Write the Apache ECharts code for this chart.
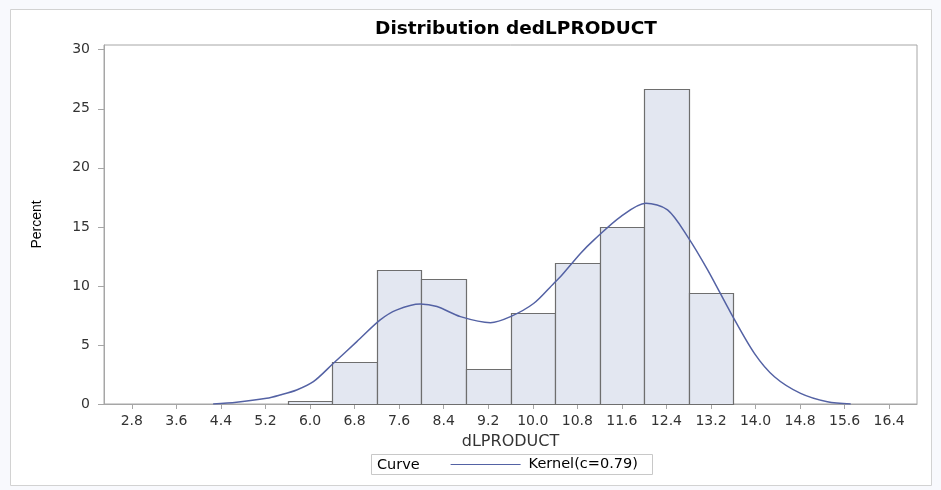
<!DOCTYPE html>
<html>
<head>
<meta charset="utf-8">
<script src="https://cdn.jsdelivr.net/npm/echarts@6/dist/echarts.min.js"></script>
<style>html,body{margin:0;padding:0;background:#f8f9fd;}#c{width:941px;height:490px;}</style>
</head>
<body>
<div id="c"></div>
<script>
// Histogram bins (bin midpoints) and percents
const binMid = [6.0, 6.8, 7.6, 8.4, 9.2, 10.0, 10.8, 11.6, 12.4, 13.2];
const binPct = [0.25, 3.58, 11.33, 10.57, 2.97, 7.68, 11.92, 14.97, 26.67, 9.38];
const binWidth = 0.8;
// Kernel density curve
const curveX = [4.26, 4.68, 5.22, 5.46, 5.76, 6.06, 6.42, 6.84, 7.26, 7.56, 7.98, 8.28, 8.70, 9.24, 9.60, 10.02, 10.38, 10.50, 10.86, 11.10, 11.58, 12.03, 12.42, 12.78, 13.14, 13.56, 13.98, 14.34, 14.81, 15.29, 15.71];
const curveY = [0.0, 0.14, 0.48, 0.76, 1.19, 1.89, 3.45, 5.28, 7.12, 7.97, 8.47, 8.25, 7.40, 6.89, 7.40, 8.53, 10.23, 10.79, 12.77, 13.90, 15.87, 17.00, 16.44, 14.18, 11.36, 7.68, 4.29, 2.31, 0.90, 0.19, 0.0];
// Tick labels
const xTicks = [2.8, 3.6, 4.4, 5.2, 6.0, 6.8, 7.6, 8.4, 9.2, 10.0, 10.8, 11.6, 12.4, 13.2, 14.0, 14.8, 15.6, 16.4];
const yTicks = [0, 5, 10, 15, 20, 25, 30];

const chart = echarts.init(document.getElementById('c'), null, {renderer: 'canvas'});
const tickFont = {fontFamily: 'DejaVu Sans', fontSize: 14, color: '#333'};
chart.setOption({
  backgroundColor: '#f8f9fd',
  animation: false,
  title: {
    text: 'Distribution dedLPRODUCT',
    left: 511, top: 15, textAlign: 'center',
    textStyle: {fontFamily: 'DejaVu Sans', fontWeight: 'bold', fontSize: 18.5, color: '#000'}
  },
  grid: {left: 104, right: 24, top: 45, bottom: 86, show: true, borderColor: '#a6a6a6', borderWidth: 1, backgroundColor: 'transparent'},
  xAxis: {
    type: 'value', min: 2.3, max: 16.9,
    name: 'dLPRODUCT', nameLocation: 'middle', nameGap: 30,
    nameTextStyle: {fontFamily: 'DejaVu Sans', fontSize: 16, color: '#333'},
    axisLine: {show: true, lineStyle: {color: '#a6a6a6'}},
    axisTick: {show: true, length: 5, lineStyle: {color: '#a6a6a6'}, customValues: xTicks},
    axisLabel: Object.assign({margin: 10, customValues: xTicks, formatter: v => v.toFixed(1)}, tickFont),
    splitLine: {show: false}
  },
  yAxis: {
    type: 'value', min: 0, max: 30.4,
    name: 'Percent', nameLocation: 'middle', nameGap: 60, nameRotate: 90,
    nameTextStyle: {fontFamily: 'Liberation Sans', fontSize: 14, color: '#000'},
    axisLine: {show: true, lineStyle: {color: '#a6a6a6'}},
    axisTick: {show: true, length: 6, lineStyle: {color: '#a6a6a6'}, customValues: yTicks},
    axisLabel: Object.assign({margin: 14, customValues: yTicks}, tickFont),
    splitLine: {show: false}
  },
  legend: {
    data: ['Kernel(c=0.79)'],
    left: 450, top: 457, padding: 0,
    itemWidth: 70, itemHeight: 14, itemGap: 0,
    itemStyle: {opacity: 0},
    lineStyle: {color: '#5462a4', width: 1.2},
    textStyle: {fontFamily: 'DejaVu Sans', fontSize: 14.5, color: '#000', padding: [0, 0, 0, 3]},
    selectedMode: false
  },
  graphic: [
    {type: 'rect', z: -100, shape: {x: 10.5, y: 9.5, width: 921, height: 476}, style: {fill: '#ffffff', stroke: '#d2d2d2', lineWidth: 1}},
    {type: 'rect', z: 1, shape: {x: 371.5, y: 454.5, width: 281, height: 20}, style: {fill: '#ffffff', stroke: '#c8c8c8', lineWidth: 1}},
    {type: 'text', z: 2, x: 377, y: 465, style: {text: 'Curve', fontFamily: 'DejaVu Sans', fontSize: 14.5, fill: '#000', verticalAlign: 'middle'}}
  ],
  series: [
    {
      type: 'custom', name: 'Histogram', z: 2,
      data: binMid.map((m, i) => [m, binPct[i]]),
      renderItem: function (params, api) {
        const m = api.value(0), p = api.value(1);
        const a = api.coord([m - binWidth / 2, p]);
        const b = api.coord([m + binWidth / 2, 0]);
        return {
          type: 'rect',
          shape: {x: Math.round(a[0]) + 0.5, y: Math.round(a[1]) + 0.5, width: Math.round(b[0]) - Math.round(a[0]), height: Math.round(b[1]) - Math.round(a[1])},
          style: {fill: '#e3e7f1', stroke: '#6e6e6e', lineWidth: 1.2}
        };
      }
    },
    {
      type: 'line', name: 'Kernel(c=0.79)', z: 3,
      data: curveX.map((x, i) => [x, curveY[i]]),
      smooth: 0.3, symbol: 'none',
      lineStyle: {color: '#5462a4', width: 1.5},
      itemStyle: {color: '#5462a4'}
    }
  ]
});
</script>
</body>
</html>
